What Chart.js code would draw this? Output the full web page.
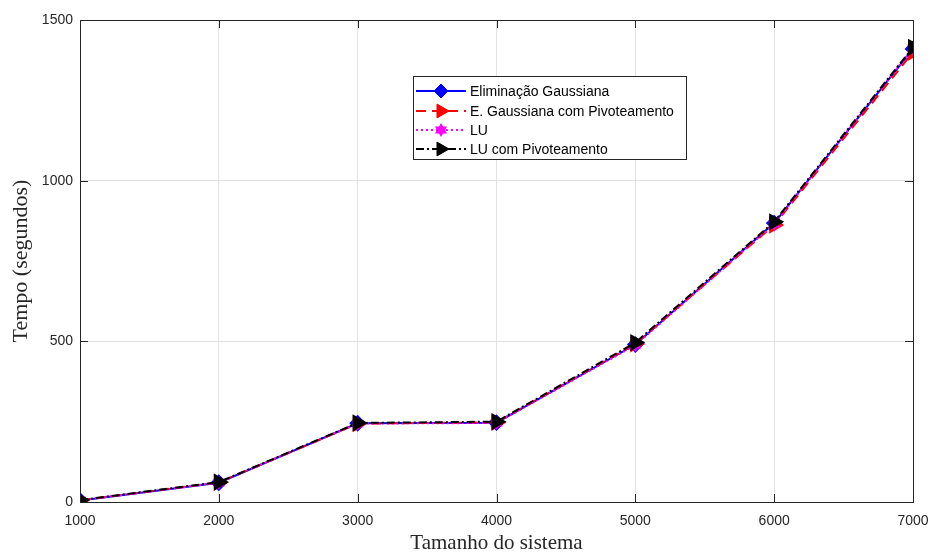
<!DOCTYPE html>
<html>
<head>
<meta charset="utf-8">
<script src="https://cdn.jsdelivr.net/npm/chart.js@4.4.1/dist/chart.umd.min.js"></script>
<style>
  html, body { margin: 0; padding: 0; background: #fff; }
  #wrap { width: 934px; height: 552px; position: relative; }
</style>
</head>
<body>
<div id="wrap"><canvas id="myChart"></canvas></div>
<script>
// tamanhos do sistema e tempos (segundos)
const sizes = [1000, 2000, 3000, 4000, 5000, 6000, 7000];
const gaussTimes = [5, 60, 245, 247, 490, 868, 1410];
const gaussPivTimes = [5, 61, 244, 248, 492, 862, 1400];
const luTimes = [5, 60, 244, 246, 488, 865, 1412];
const luPivTimes = [6, 62, 246, 250, 496, 872, 1415];
const yTicks = [0, 500, 1000, 1500];

const seriesNames = ["Eliminação Gaussiana", "E. Gaussiana com Pivoteamento", "LU", "LU com Pivoteamento"];

// hexagram marker for LU
const makeHexagram = (color, r) => {
  let c = document.createElement("canvas");
  c.width = r * 2 + 2;
  c.height = r * 2 + 2;
  let ctx = c.getContext("2d");
  ctx.fillStyle = color;
  ctx.translate(r + 1, r + 1);
  for (let k = 0; k < 2; k++) {
    ctx.beginPath();
    for (let i = 0; i < 3; i++) {
      let a = -Math.PI / 2 + k * Math.PI + i * 2 * Math.PI / 3;
      let px = Math.cos(a) * r, py = Math.sin(a) * r;
      if (i === 0) ctx.moveTo(px, py); else ctx.lineTo(px, py);
    }
    ctx.closePath();
    ctx.fill();
  }
  return c;
};
const hexStar = makeHexagram("#ff00ff", 7);

const toXY = (arr) => arr.map((v, i) => ({ x: sizes[i], y: v }));

// box + inward ticks + legend, MATLAB style
const boxPlugin = {
  id: "boxPlugin",
  afterDraw(chart) {
    const ctx = chart.ctx;
    const a = chart.chartArea;
    const xs = chart.scales.x, ys = chart.scales.y;
    ctx.save();
    ctx.strokeStyle = "#262626";
    ctx.lineWidth = 1;
    ctx.strokeRect(a.left + 0.5, a.top + 0.5, a.right - a.left, a.bottom - a.top);
    ctx.beginPath();
    sizes.forEach((s) => {
      let px = Math.round(xs.getPixelForValue(s)) + 0.5;
      ctx.moveTo(px, a.bottom); ctx.lineTo(px, a.bottom - 8);
      ctx.moveTo(px, a.top); ctx.lineTo(px, a.top + 8);
    });
    yTicks.forEach((t) => {
      let py = Math.round(ys.getPixelForValue(t)) + 0.5;
      ctx.moveTo(a.left, py); ctx.lineTo(a.left + 8, py);
      ctx.moveTo(a.right, py); ctx.lineTo(a.right - 8, py);
    });
    ctx.stroke();

    // legend
    const lx = 413, ly = 76, lw = 273, lh = 83;
    ctx.fillStyle = "#fff";
    ctx.fillRect(lx, ly, lw, lh);
    ctx.strokeStyle = "#262626";
    ctx.strokeRect(lx + 0.5, ly + 0.5, lw, lh);
    const rows = [91, 111, 130, 149];
    ctx.font = "14px 'Liberation Sans', Arial, sans-serif";
    ctx.textBaseline = "middle";
    chart.data.datasets.forEach((ds, i) => {
      let y = rows[i];
      ctx.strokeStyle = ds.borderColor;
      ctx.lineWidth = 2;
      ctx.setLineDash(ds.borderDash || []);
      ctx.beginPath();
      ctx.moveTo(416, y);
      ctx.lineTo(466, y);
      ctx.stroke();
      ctx.setLineDash([]);
      ctx.fillStyle = ds.pointBackgroundColor;
      ctx.strokeStyle = ds.pointBorderColor;
      ctx.lineWidth = 1;
      Chart.helpers.drawPoint(ctx, {
        pointStyle: ds.pointStyle,
        radius: ds.pointRadius,
        rotation: ds.pointRotation || 0,
        borderWidth: 1
      }, 441, y);
      ctx.fillStyle = "#000";
      ctx.fillText(ds.label, 470, y + 1);
    });
    ctx.restore();
  }
};

const tickFont = { family: "'Liberation Sans', Arial, sans-serif", size: 14 };
const serif = "'Liberation Serif', 'DejaVu Serif', serif";

new Chart("myChart", {
  type: "line",
  data: {
    datasets: [
      {
        label: seriesNames[0],
        data: toXY(gaussTimes),
        borderColor: "#0000ff",
        backgroundColor: "#0000ff",
        pointBackgroundColor: "#0000ff",
        pointBorderColor: "#0000ff",
        pointStyle: "rectRot",
        pointRadius: 7,
        borderWidth: 2,
        order: 3,
      },
      {
        label: seriesNames[1],
        data: toXY(gaussPivTimes),
        borderColor: "#ff0000",
        backgroundColor: "#ff0000",
        pointBackgroundColor: "#ff0000",
        pointBorderColor: "#ff0000",
        pointStyle: "triangle",
        pointRotation: 90,
        pointRadius: 8,
        borderDash: [10, 6],
        borderWidth: 2,
        order: 2,
      },
      {
        label: seriesNames[2],
        data: toXY(luTimes),
        borderColor: "#ff00ff",
        backgroundColor: "#ff00ff",
        pointBackgroundColor: "#ff00ff",
        pointBorderColor: "#ff00ff",
        pointStyle: hexStar,
        pointRadius: 7,
        borderDash: [2, 3],
        borderWidth: 2,
        order: 1,
      },
      {
        label: seriesNames[3],
        data: toXY(luPivTimes),
        borderColor: "#000000",
        backgroundColor: "#000000",
        pointBackgroundColor: "#000000",
        pointBorderColor: "#000000",
        pointStyle: "triangle",
        pointRotation: 90,
        pointRadius: 8,
        borderDash: [8, 3, 2, 3],
        borderWidth: 2,
        order: 0,
      },
    ],
  },
  options: {
    responsive: true,
    maintainAspectRatio: false,
    animation: false,
    layout: { padding: { left: 8, right: 21, top: 20, bottom: 0 } },
    plugins: {
      legend: { display: false },
      tooltip: { enabled: false },
    },
    scales: {
      x: {
        type: "linear",
        min: 1000,
        max: 7000,
        afterBuildTicks: (s) => { s.ticks = sizes.map((v) => ({ value: v })); },
        afterFit: (s) => { s.height = 50; s.paddingRight = 0; s.paddingLeft = 0; },
        grid: { color: "#e3e3e3", drawTicks: false },
        border: { display: false },
        ticks: {
          color: "#262626",
          padding: 11,
          maxRotation: 0,
          font: tickFont,
          callback: (v) => String(v),
        },
        title: {
          display: true,
          text: "Tamanho do sistema",
          color: "#262626",
          padding: { top: 0, bottom: -4 },
          font: { family: serif, size: 21 },
        },
      },
      y: {
        min: 0,
        max: 1500,
        afterBuildTicks: (s) => { s.ticks = yTicks.map((v) => ({ value: v })); },
        afterFit: (s) => { s.width = 72; },
        grid: { color: "#e3e3e3", drawTicks: false },
        border: { display: false },
        ticks: {
          color: "#262626",
          padding: 7,
          font: tickFont,
          callback: (v) => String(v),
        },
        title: {
          display: true,
          text: "Tempo (segundos)",
          color: "#262626",
          padding: { top: 0, bottom: 0 },
          font: { family: serif, size: 22 },
        },
      },
    },
  },
  plugins: [boxPlugin],
});
</script>
</body>
</html>
